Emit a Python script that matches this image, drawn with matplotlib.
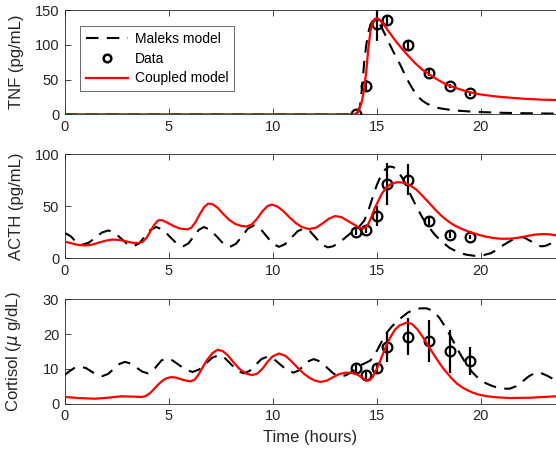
import numpy as np
import matplotlib
matplotlib.use("Agg")
import matplotlib.pyplot as plt
from matplotlib.lines import Line2D

plt.rcParams['font.family'] = ['Liberation Sans', 'DejaVu Sans']
plt.rcParams['mathtext.fontset'] = 'dejavusans'

# ---- data ----
data_t = [14.0, 14.5, 15.0, 15.5, 16.5, 17.5, 18.5, 19.5]

tnf_data = [0, 41, 130, 136, 100, 60, 41, 30]
tnf_err_lo = [1, 9, 25, 7, 7, 5, 3, 3]
tnf_err_hi = [1, 9, 20, 7, 7, 5, 3, 3]

acth_data = [25, 27.5, 40.5, 71.5, 75.5, 35.5, 22, 20.5]
acth_err = [3, 3, 10, 20, 15, 4, 3, 2]

cort_data = [10.1, 8.2, 10.1, 16.2, 19.2, 18.1, 15.1, 12.2]
cort_err = [1, 1, 1.5, 4.1, 5.3, 6.0, 6.2, 4.1]

# TNF, Maleks model (dashed)
tnf_mal_t = [0, 13.9, 14.0, 14.1, 14.2, 14.3, 14.4, 14.5, 14.6, 14.7, 14.8, 14.9, 15.0,
             15.2, 15.4, 15.6, 15.8, 16.0, 16.2, 16.4, 16.6, 16.8, 17.0, 17.2, 17.4,
             17.7, 18.0, 18.5, 19.0, 19.5, 20.0, 21.0, 22.0, 23.0, 23.63]
tnf_mal_v = [0, 0, 0.5, 3, 12, 40, 75, 100, 118, 129, 134, 135, 134,
             127, 115, 102, 90, 79, 67, 54, 43, 33, 25, 19.5, 15.5,
             11.5, 8.8, 6.5, 5, 4, 3.2, 2.2, 1.6, 1.2, 1.0]

# TNF, coupled model (red)
tnf_cpl_t = [0, 13.9, 14.0, 14.1, 14.2, 14.3, 14.4, 14.5, 14.6, 14.7, 14.8, 14.9, 15.0,
             15.1, 15.3, 15.6, 16.0, 16.4, 16.8, 17.2, 17.6, 18.0, 18.4, 19.0, 19.5,
             20.0, 20.8, 22.0, 23.0, 23.63]
tnf_cpl_v = [0, 0, 1, 4, 10, 20, 38, 62, 95, 120, 132, 137, 138,
             137, 131, 118, 102, 88, 75, 64, 56, 48.5, 42, 36, 31.5,
             28.5, 25.4, 22.5, 21, 20.5]

# ACTH, Maleks model (dashed)
acth_mal_t = [0, 0.3, 0.55, 0.85, 1.16, 1.48, 1.79, 2.1, 2.4, 2.7, 3.0, 3.3,
              3.58, 3.85, 4.13, 4.4, 4.73, 5.05, 5.38, 5.7, 5.95, 6.2, 6.45, 6.7,
              7.0, 7.33, 7.64, 7.95, 8.24, 8.53, 8.81, 9.1, 9.4, 9.7, 10.0, 10.3,
              10.6, 10.9, 11.2, 11.5, 11.79, 12.08, 12.36, 12.65, 12.9, 13.2, 13.5,
              13.8, 14.1, 14.4, 14.6, 14.8, 15.0, 15.2, 15.4, 15.6, 15.8, 16.0, 16.3,
              16.6, 16.9, 17.2, 17.5, 17.8, 18.1, 18.5, 18.9, 19.3, 19.7, 20.1, 20.5,
              20.8, 21.1, 21.5, 21.75, 21.9, 22.1, 22.4, 22.7, 22.9, 23.1, 23.35, 23.63]
acth_mal_v = [24.4, 21, 15.5, 13, 15.0, 19.9, 24.7, 26.7, 24.5, 19.2, 13.8, 11.6,
              14.3, 20.8, 27.3, 30, 27.3, 20.8, 14.3, 11.6, 14.3, 20.8, 27.3, 30,
              27.2, 20.5, 13.8, 11, 14, 21.25, 28.5, 31.5, 28.5, 21.25, 14, 11,
              13.6, 19.8, 26, 28.6, 26, 19.5, 13.1, 10.5, 11.5, 15, 20,
              25, 29, 36, 46, 58, 70, 79, 85, 88, 87.5, 84, 75,
              62, 50, 39, 30, 22.5, 16.5, 10, 6, 3.5, 2.4, 2.8, 5,
              8.5, 12.8, 17.5, 20, 20.6, 19.8, 16.5, 12.8, 11.5, 11.8, 14, 17.5]

# ACTH, coupled model (red)
acth_cpl_t = [0, 0.3, 0.6, 0.95, 1.3, 1.6, 1.95, 2.3, 2.65, 3.0, 3.3, 3.55, 3.75, 3.95,
              4.15, 4.3, 4.5, 4.7, 4.95, 5.25, 5.55, 5.9, 6.1, 6.3, 6.5, 6.7, 6.9, 7.1,
              7.35, 7.6, 7.9, 8.2, 8.5, 8.75, 9.0, 9.25, 9.5, 9.75, 9.95, 10.2, 10.5,
              10.8, 11.1, 11.4, 11.75, 12.1, 12.4, 12.7, 13.0, 13.3, 13.6, 13.9, 14.1,
              14.3, 14.45, 14.6, 14.75, 14.9, 15.05, 15.25, 15.45, 15.7, 16.0, 16.3,
              16.6, 16.9, 17.2, 17.5, 17.8, 18.1, 18.4, 18.7, 19.0, 19.3, 19.6, 19.9,
              20.2, 20.6, 21.0, 21.4, 21.8, 22.2, 22.6, 23.0, 23.3, 23.63]
acth_cpl_v = [16, 14.5, 13, 12.3, 13, 14.8, 16.8, 18, 17.6, 16, 14.8, 14.6, 15.8, 20,
              27, 32, 36.5, 36.5, 34, 30.8, 28.5, 27.7, 29.5, 35, 42.5, 49, 52.5, 52,
              48.5, 43, 37, 33, 31, 30.5, 32.5, 38, 45, 50, 51.5, 50, 45.5,
              39.5, 34, 30, 28, 29.5, 33.5, 38, 40.5, 39.5, 36, 32.5, 30,
              28.5, 29.5, 33, 40, 48, 54, 62, 67.5, 71.5, 73, 72.5,
              70, 66, 60, 53.5, 47, 41, 36, 32, 29, 26.5, 24.5, 22.5,
              21, 19.5, 18.7, 18.8, 19.7, 21.2, 22.7, 23.2, 23, 22]

# Cortisol, Maleks model (dashed)
cort_mal_t = [0, 0.2, 0.45, 0.77, 1.03, 1.28, 1.54, 1.8, 2.08, 2.35, 2.63, 2.9, 3.18,
              3.45, 3.73, 4.0, 4.22, 4.43, 4.65, 4.87, 5.19, 5.51, 5.83, 6.15, 6.46,
              6.78, 7.09, 7.4, 7.7, 8.0, 8.3, 8.6, 8.89, 9.17, 9.46, 9.74, 10.06,
              10.37, 10.69, 11.0, 11.24, 11.49, 11.73, 11.97, 12.29, 12.61, 12.93,
              13.25, 13.5, 13.75, 14.0, 14.25, 14.5, 14.7, 14.9, 15.1, 15.3, 15.5,
              15.7, 15.9, 16.2, 16.5, 16.8, 17.1, 17.4, 17.7, 18.0, 18.25, 18.5,
              18.75, 19.0, 19.3, 19.6, 19.9, 20.2, 20.5, 20.8, 21.1, 21.4, 21.7,
              22.0, 22.3, 22.6, 22.9, 23.2, 23.45, 23.63]
cort_mal_v = [8.2, 9.2, 10.2, 10.6, 10.2, 9.25, 8.3, 7.9, 8.5, 9.95, 11.4, 12, 11.5,
              10.35, 9.2, 8.7, 9.3, 10.85, 12.4, 13, 12.4, 11.05, 9.7, 9.1, 9.8,
              11.5, 13.2, 13.9, 13.1, 11.3, 9.5, 8.7, 9.4, 11.1, 12.8, 13.5, 12.8,
              11.2, 9.6, 8.9, 9.5, 10.85, 12.2, 12.8, 12.1, 10.35, 8.6,
              7.9, 8.1, 8.9, 10, 11.1, 11.8, 12.4, 14, 16.2, 18.5, 20.5,
              22, 23.2, 24.8, 26.2, 27, 27.4, 27.4, 26.7, 24.8, 22.5, 19.9,
              17.2, 14.4, 11.4, 9, 7.2, 6, 5.2, 4.6, 4.3, 4.3, 5,
              6.3, 7.8, 8.8, 8.8, 8, 7.2, 6.7]

# Cortisol, coupled model (red)
cort_cpl_t = [0, 0.7, 1.45, 2.1, 2.7, 3.3, 3.7, 3.9, 4.1, 4.3, 4.5, 4.7, 4.9, 5.1,
              5.35, 5.7, 6.05, 6.25, 6.45, 6.65, 6.85, 7.1, 7.35, 7.6, 7.85, 8.1,
              8.4, 8.7, 9.0, 9.25, 9.5, 9.75, 10.0, 10.3, 10.6, 10.9, 11.2, 11.5,
              11.8, 12.05, 12.3, 12.6, 12.9, 13.2, 13.5, 13.8, 14.05, 14.3, 14.5,
              14.65, 14.8, 14.95, 15.15, 15.3, 15.47, 15.65, 15.87, 16.1, 16.45,
              16.7, 16.95, 17.2, 17.4, 17.6, 17.8, 18.0, 18.2, 18.4, 18.6, 18.85,
              19.1, 19.35, 19.6, 19.9, 20.3, 20.8, 21.4, 22.4, 23.0, 23.63]
cort_cpl_v = [1.9, 1.6, 1.4, 1.7, 2.1, 2.0, 1.9, 2.2, 3.0, 4.2, 5.5, 6.6, 7.3, 7.6,
              7.5, 6.8, 6.4, 6.9, 8.5, 10.6, 12.6, 14.5, 15.5, 15.1, 13.8, 12,
              10, 8.7, 8.2, 8.6, 10, 12, 13.6, 14.4, 13.8, 12.2, 10.3, 8.6,
              7.3, 6.6, 6.25, 6.6, 7.6, 8.5, 8.9, 8.8, 8.4, 7.5, 6.6,
              6.7, 7.6, 9.3, 12, 14.3, 16.8, 19, 21.2, 22.5, 23.3,
              22.9, 21.4, 19.3, 17.4, 15.5, 13.6, 11.8, 10.1, 8.7, 7.3, 5.8,
              4.7, 3.9, 3.2, 2.6, 2.1, 1.8, 1.6, 1.7, 1.9, 2.1]

panels = [
    ("TNF (pg/mL)", (0, 150), [0, 50, 100, 150],
     tnf_mal_t, tnf_mal_v, tnf_cpl_t, tnf_cpl_v, tnf_data, [tnf_err_lo, tnf_err_hi]),
    ("ACTH (pg/mL)", (0, 100), [0, 50, 100],
     acth_mal_t, acth_mal_v, acth_cpl_t, acth_cpl_v, acth_data, acth_err),
    ("Cortisol ($\\mu$ g/dL)", (0, 30), [0, 10, 20, 30],
     cort_mal_t, cort_mal_v, cort_cpl_t, cort_cpl_v, cort_data, cort_err),
]

W, H = 556, 455
fig = plt.figure(figsize=(W / 100, H / 100), dpi=100)

ax_left = 64.7 / W
ax_w = 1.0 - ax_left
tops = [10, 154, 299.3]
hgt = 104.3
grey = '#262626'

axes = []
for i, (ylab, ylim, yt, mt, mv, ct, cv, dv, de) in enumerate(panels):
    ax = fig.add_axes([ax_left, 1 - (tops[i] + hgt) / H, ax_w, hgt / H])
    l_mal, = ax.plot(mt, mv, color='k', lw=1.5, ls=(0, (6, 4)), label='Maleks model')
    ax.errorbar(data_t, dv, yerr=de, fmt='o', mfc='none', mec='k', ecolor='k',
                ms=7, mew=1.6, elinewidth=1.6, capsize=0, label='Data', zorder=3)
    l_cpl, = ax.plot(ct, cv, color='#ff0000', lw=1.6, label='Coupled model', zorder=4)
    ax.set_xlim(0, 23.62)
    ax.set_ylim(*ylim)
    ax.set_yticks(yt)
    ax.set_xticks([0, 5, 10, 15, 20])
    ax.tick_params(direction='in', top=True, right=False, length=4, width=0.6,
                   colors=grey, labelsize=10.5, pad=4)
    ax.spines['right'].set_visible(False)
    for s in ['left', 'top', 'bottom']:
        ax.spines[s].set_color(grey)
        ax.spines[s].set_linewidth(0.6)
    ax.set_ylabel(ylab, fontsize=12, color=grey)
    ax.yaxis.set_label_coords(-0.083, 0.5)
    axes.append(ax)
    if i == 0:
        leg_handles = [l_mal,
                       Line2D([], [], ls='none', marker='o', mfc='none', mec='k',
                              ms=5.5, mew=1.8),
                       l_cpl]

axes[-1].set_xlabel("Time (hours)", fontsize=12, color=grey, labelpad=5)

leg = axes[0].legend(leg_handles, ['Maleks model', 'Data', 'Coupled model'],
                     loc='upper left', bbox_to_anchor=(0.032, 0.845), borderaxespad=0,
                     fontsize=10, frameon=True, fancybox=False, handlelength=3.0,
                     handletextpad=0.5, borderpad=0.4, labelspacing=0.42)
leg.get_frame().set_edgecolor(grey)
leg.get_frame().set_linewidth(0.6)

fig.savefig("out.png", dpi=100)
